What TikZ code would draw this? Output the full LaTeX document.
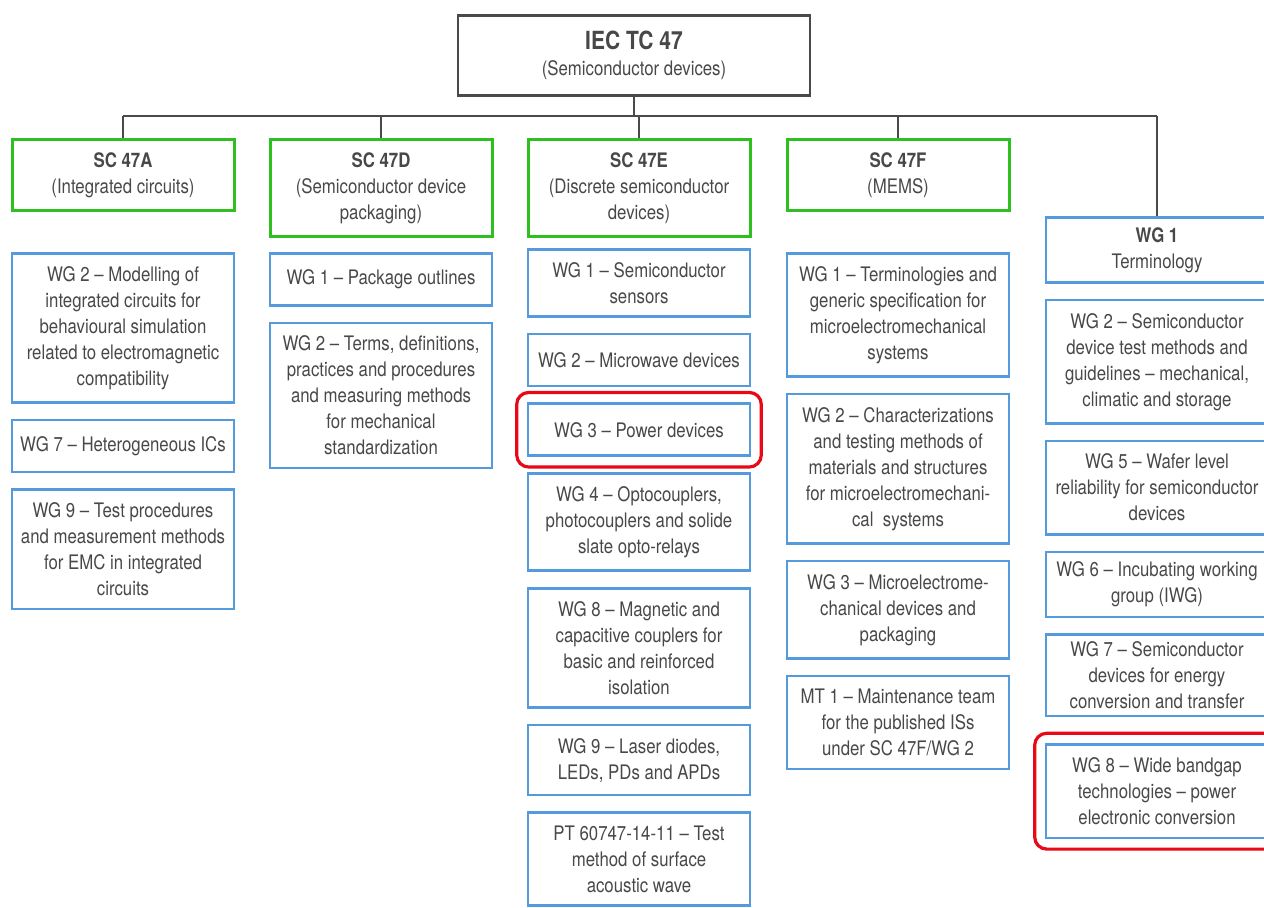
\documentclass[tikz,border=0pt]{standalone}
\usepackage{fontspec}
\setmainfont{TeX Gyre Heros}[FakeStretch=0.84]
\usepackage{tikz}
\usetikzlibrary{positioning, fit}
\definecolor{scgreen}{RGB}{46,192,32}
\definecolor{wgblue}{RGB}{86,154,222}
\definecolor{hired}{RGB}{232,8,24}
\definecolor{txtgray}{RGB}{72,72,72}
\definecolor{tcgray}{RGB}{74,74,74}
\tikzset{
  tcbox/.style  ={draw=tcgray, line width=1.3pt, align=center, text=txtgray,
                  minimum width=176pt, minimum height=40pt,
                  font=\fontsize{10}{13}\selectfont},
  scbox/.style  ={draw=scgreen, line width=1.5pt, align=center, text=txtgray,
                  minimum width=111pt, minimum height=26pt, inner xsep=3pt,
                  inner ysep=6.5pt, font=\fontsize{10}{13}\selectfont},
  wgbox/.style  ={draw=wgblue, line width=1.3pt, align=center, text=txtgray,
                  minimum width=111pt, minimum height=26pt, inner xsep=3pt,
                  inner ysep=6.5pt, font=\fontsize{10}{13}\selectfont},
  hilite/.style ={draw=hired, line width=1.6pt, rounded corners=6pt, inner sep=5pt},
  link/.style   ={draw=tcgray, line width=0.55pt},
}

\begin{document}
\begin{tikzpicture}[x=0.5pt, y=-0.5pt, node distance=7.5pt]
  \useasboundingbox (0,0) rectangle (1264,908);

  \node[tcbox, anchor=north] (tc) at (634,14)
    {{\fontsize{12.5}{15}\selectfont\bfseries IEC TC 47}\\(Semiconductor devices)};

  % subcommittees
  \node[scbox, anchor=north] (sca) at (123,138) {\textbf{SC 47A}\\(Integrated circuits)};
  \node[scbox, anchor=north] (scd) at (381,138) {\textbf{SC 47D}\\(Semiconductor device\\packaging)};
  \node[scbox, anchor=north] (sce) at (639,138) {\textbf{SC 47E}\\(Discrete semiconductor\\devices)};
  \node[scbox, anchor=north] (scf) at (898,138) {\textbf{SC 47F}\\(MEMS)};
  \node[wgbox, anchor=north, inner ysep=5pt] (wgt) at (1157,216) {\textbf{WG 1}\\Terminology};

  % SC 47A
  \node[wgbox, anchor=north] (a2) at (123,252) {WG 2 -- Modelling of\\integrated circuits for\\behavioural simulation\\related to electromagnetic\\compatibility};
  \node[wgbox, below=of a2]  (a7) {WG 7 -- Heterogeneous ICs};
  \node[wgbox, below=of a7]  (a9) {WG 9 -- Test procedures\\and measurement methods\\for EMC in integrated\\circuits};

  % SC 47D
  \node[wgbox, anchor=north] (d1) at (381,252) {WG 1 -- Package outlines};
  \node[wgbox, below=of d1]  (d2) {WG 2 -- Terms, definitions,\\practices and procedures\\and measuring methods\\for mechanical\\standardization};

  % SC 47E
  \node[wgbox, anchor=north] (e1) at (639,248) {WG 1 -- Semiconductor\\sensors};
  \node[wgbox, below=of e1]  (e2) {WG 2 -- Microwave devices};
  \node[wgbox, below=of e2]  (e3) {WG 3 -- Power devices};
  \node[wgbox, below=of e3]  (e4) {WG 4 -- Optocouplers,\\photocouplers and solide\\slate opto-relays};
  \node[wgbox, below=of e4]  (e8) {WG 8 -- Magnetic and\\capacitive couplers for\\basic and reinforced\\isolation};
  \node[wgbox, below=of e8]  (e9) {WG 9 -- Laser diodes,\\LEDs, PDs and APDs};
  \node[wgbox, below=of e9]  (ept) {PT 60747-14-11 -- Test\\method of surface\\acoustic wave};

  % SC 47F
  \node[wgbox, anchor=north] (f1) at (898,252) {WG 1 -- Terminologies and\\generic specification for\\microelectromechanical\\systems};
  \node[wgbox, below=of f1]  (f2) {WG 2 -- Characterizations\\and testing methods of\\materials and structures\\for microelectromechani-\\cal\ \ systems};
  \node[wgbox, below=of f2]  (f3) {WG 3 -- Microelectrome-\\chanical devices and\\packaging};
  \node[wgbox, below=of f3]  (fmt) {MT 1 -- Maintenance team\\for the published ISs\\under SC 47F/WG 2};

  % working groups of TC 47
  \node[wgbox, below=of wgt] (t2) {WG 2 -- Semiconductor\\device test methods and\\guidelines -- mechanical,\\climatic and storage};
  \node[wgbox, below=of t2]  (t5) {WG 5 -- Wafer level\\reliability for semiconductor\\devices};
  \node[wgbox, below=of t5, inner ysep=5pt]   (t6) {WG 6 -- Incubating working\\group (IWG)};
  \node[wgbox, below=of t6, inner ysep=3.5pt] (t7) {WG 7 -- Semiconductor\\devices for energy\\conversion and transfer};
  \node[wgbox, below=13pt of t7] (t8) {WG 8 -- Wide bandgap\\technologies -- power\\electronic conversion};

  % highlights
  \node[hilite, fit=(e3)] (e3hl) {};
  \node[hilite, fit=(t8)] (t8hl) {};

  % tree
  \coordinate (bus) at (0,116);
  \draw[link] (tc.south) -- (tc.south |- bus);
  \draw[link] (sca.north |- bus) -- (wgt.north |- bus);
  \foreach \n in {sca,scd,sce,scf,wgt}
    \draw[link] (\n.north) -- (\n.north |- bus);
\end{tikzpicture}
\end{document}
